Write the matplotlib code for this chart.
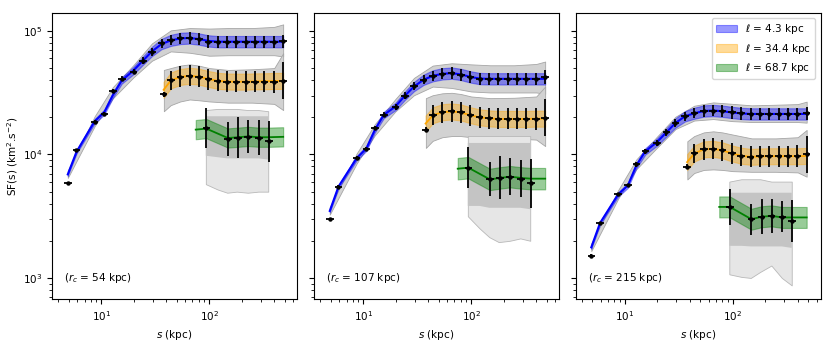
import numpy as np
import matplotlib
matplotlib.use("Agg")
import matplotlib.pyplot as plt

# ---------------- data ----------------
RC_LABELS = ["($r_c$ = 54 kpc)", "($r_c$ = 107 kpc)", "($r_c$ = 215 kpc)"]
SERIES_LABELS = [r"$\ell$ = 4.3 kpc", r"$\ell$ = 34.4 kpc", r"$\ell$ = 68.7 kpc"]

S_BLUE = [4.9, 5.9, 8.7, 10.7, 12.8, 15.5, 19.9, 24.3, 29.5, 36.2, 44.2, 54.0,
          65.9, 80.4, 98.2, 119.8, 146.3, 178.6, 218.0, 266.1, 324.8, 396.5, 484.0]
S_ORANGE = [37.8, 44.2, 54.0, 65.9, 80.4, 98.2, 119.8, 146.3, 178.6, 218.0,
            266.1, 324.8, 396.5, 484.0]
S_GREEN_PTS = [94, 149, 185, 229, 288, 356]
S_GREEN_LINE = [75, 94, 149, 185, 229, 288, 356, 484]

BLUE_BAND_DEX = [0.012, 0.014, 0.018, 0.02, 0.022, 0.026, 0.03, 0.034, 0.038, 0.042,
                 0.045, 0.046, 0.046, 0.046, 0.046, 0.046, 0.046, 0.046, 0.046,
                 0.046, 0.046, 0.046, 0.046]
BLUE_ERR_DEX = [0.012, 0.012, 0.014, 0.015, 0.017, 0.02, 0.024, 0.028, 0.032, 0.036,
                0.04, 0.045, 0.048, 0.05, 0.05, 0.05, 0.05, 0.05, 0.05, 0.05,
                0.05, 0.05, 0.055]
ORANGE_BAND_DEX = 0.065
ORANGE_ERR_DEX = [0.02, 0.08, 0.085, 0.085, 0.085, 0.085, 0.085, 0.085, 0.085,
                  0.085, 0.085, 0.085, 0.09, 0.15]
GREEN_BAND_DEX = [0.078, 0.087, 0.085]

# panel 1 (r_c = 54 kpc)
P1_BLUE_LINE = [6900, 10500, 18600, 22100, 30200, 39800, 47900, 57500, 68400, 78500,
                84100, 87100, 87900, 86100, 83200, 82000, 82000, 82000, 82000, 82000,
                82000, 82000, 82000]
P1_BLUE_PTS = [5830, 10800, 18400, 21400, 32800, 41000, 47000, 57700, 68100, 79400,
               84100, 87100, 88100, 86100, 82200, 81800, 81700, 81700, 81800, 82000,
               82000, 82000, 82400]
P1_ORANGE_LINE = [33400, 39800, 42500, 43400, 42700, 40900, 39500, 39000, 38900, 38900,
                  39100, 39200, 39400, 39500]
P1_ORANGE_PTS = [30800, 39800, 42700, 43400, 42700, 40700, 39400, 38900, 38900, 38900,
                 38900, 38900, 38900, 39500]
P1_GREEN_LINE = [15900, 16200, 13600, 13800, 14000, 13800, 13800, 13900]
P1_GREEN_PTS = [16400, 13400, 13700, 13900, 13700, 12800]
P1_GREEN_ERR_DEX = [0.165, 0.138, 0.164, 0.134, 0.14, 0.168]

# panel 2 (r_c = 107 kpc)
P2_BLUE_LINE = [3490, 5500, 9330, 11200, 15800, 20900, 24500, 29900, 35500, 40300,
                43400, 45000, 45600, 44500, 42500, 41200, 41000, 41000, 41000, 41000,
                41000, 41000, 41000]
P2_BLUE_PTS = [2990, 5500, 9400, 11100, 16400, 21000, 24200, 29900, 35600, 40300,
               43400, 45000, 45600, 44200, 42400, 41000, 41000, 41000, 41000, 41000,
               41000, 41000, 42400]
P2_ORANGE_LINE = [17800, 20800, 22000, 22300, 21900, 20800, 20000, 19600, 19400, 19400,
                  19400, 19400, 19500, 19500]
P2_ORANGE_PTS = [15900, 20800, 22000, 22300, 21900, 20800, 20000, 19600, 19400, 19400,
                 19400, 19400, 19500, 19800]
P2_GREEN_LINE = [7670, 7820, 6280, 6460, 6610, 6460, 6370, 6370]
P2_GREEN_PTS = [7820, 6370, 6490, 6610, 6370, 5830]
P2_GREEN_ERR_DEX = [0.165, 0.137, 0.175, 0.148, 0.148, 0.2]

# panel 3 (r_c = 215 kpc)
P3_BLUE_LINE = [1770, 2780, 4750, 5620, 8130, 10600, 12600, 15100, 18000, 20400,
                21600, 22500, 22700, 22400, 21900, 21500, 21300, 21300, 21300, 21300,
                21300, 21300, 21300]
P3_BLUE_PTS = [1510, 2780, 4750, 5620, 8300, 10600, 12400, 15100, 18000, 20400,
               21600, 22500, 22700, 22400, 21900, 21500, 21300, 21300, 21300, 21300,
               21300, 21300, 21500]
P3_ORANGE_LINE = [8670, 10200, 11000, 11100, 10800, 10200, 9770, 9570, 9640, 9680,
                  9680, 9680, 9680, 9730]
P3_ORANGE_PTS = [7960, 10200, 11000, 11100, 10800, 10200, 9770, 9570, 9640, 9680,
                 9680, 9680, 9680, 10000]
P3_GREEN_LINE = [3760, 3760, 2990, 3130, 3180, 3090, 3090, 3090]
P3_GREEN_PTS = [3760, 2990, 3130, 3180, 3140, 2900]
P3_GREEN_ERR_DEX = [0.148, 0.124, 0.141, 0.137, 0.128, 0.168]

# spread of the grey realisations (envelopes)
ENV_S_BLUE = [4.9, 8.7, 12.8, 19.9, 29.5, 44, 66, 100, 150, 250, 400, 484]
ENV_S_ORANGE = [38, 44, 54, 66, 80, 100, 150, 250, 400, 484]
ENV_S_GREEN = [93, 120, 147, 180, 228, 285, 352]

P1_BLUE_HI = [7410, 20400, 35100, 53100, 79400, 101200, 105700, 104700, 105700, 105700, 108100, 113200]
P1_BLUE_LO = [6460, 17000, 28500, 42200, 57500, 68400, 66700, 63100, 63700, 63700, 63700, 62200]
P2_BLUE_HI = [3740, 10200, 17600, 28200, 41700, 52500, 54800, 53700, 52800, 52800, 54100, 56600]
P2_BLUE_LO = [3260, 8470, 14300, 22400, 30200, 35500, 34600, 32400, 31800, 31800, 31800, 31100]
P3_BLUE_HI = [1900, 5150, 9120, 13960, 20230, 24830, 26420, 25700, 25000, 25290, 25590, 26790]
P3_BLUE_LO = [1650, 4390, 7590, 11350, 16070, 18840, 19360, 18620, 18320, 18320, 18320, 18110]

P1_ORANGE_HI = [48400, 50100, 52500, 53700, 52500, 50100, 48400, 49000, 50100, 66100]
P1_ORANGE_LO = [22400, 25100, 26900, 27900, 27500, 26900, 26300, 26300, 25700, 22900]
P2_ORANGE_HI = [28600, 30200, 31300, 31600, 30900, 29500, 28600, 28800, 29500, 35500]
P2_ORANGE_LO = [11300, 12900, 13800, 14100, 14100, 13800, 13500, 13500, 13200, 11700]
P3_ORANGE_HI = [12800, 14100, 15100, 15400, 15100, 14500, 13500, 13500, 13800, 15800]
P3_ORANGE_LO = [6280, 7080, 7500, 7570, 7500, 7330, 7240, 7240, 7160, 6610]

P1_GREEN_HI = [22900, 23400, 23400, 23400, 22900, 22900, 22400]
P1_GREEN_LO = [5750, 5200, 4900, 5000, 4900, 5000, 5000]
P1_GREEN_CORE_HI = [20400, 20400, 20400, 20400, 20400, 20400, 20400]
P1_GREEN_CORE_LO = [9770, 9500, 9300, 9300, 9300, 9300, 9100]
P2_GREEN_HI = [14100, 14100, 14100, 14100, 14100, 14100, 14100]
P2_GREEN_LO = [3160, 2510, 2140, 1950, 2000, 2090, 2000]
P2_GREEN_CORE_HI = [12400, 12400, 12400, 12400, 12400, 12400, 12400]
P2_GREEN_CORE_LO = [3830, 3830, 3700, 3700, 3700, 3700, 3600]
P3_GREEN_HI = [6030, 6300, 6300, 6300, 6030, 6030, 6030]
P3_GREEN_LO = [1070, 1020, 1000, 1120, 1260, 1000, 870]
P3_GREEN_CORE_HI = [4900, 4900, 4900, 4900, 4900, 4900, 4900]
P3_GREEN_CORE_LO = [1820, 1820, 1800, 1800, 1800, 1800, 1750]

PANELS = [
    dict(bl=P1_BLUE_LINE, bp=P1_BLUE_PTS, ol=P1_ORANGE_LINE, op=P1_ORANGE_PTS,
         gl=P1_GREEN_LINE, gp=P1_GREEN_PTS, ge=P1_GREEN_ERR_DEX,
         bhi=P1_BLUE_HI, blo=P1_BLUE_LO, ohi=P1_ORANGE_HI, olo=P1_ORANGE_LO,
         ghi=P1_GREEN_HI, glo=P1_GREEN_LO, gchi=P1_GREEN_CORE_HI, gclo=P1_GREEN_CORE_LO),
    dict(bl=P2_BLUE_LINE, bp=P2_BLUE_PTS, ol=P2_ORANGE_LINE, op=P2_ORANGE_PTS,
         gl=P2_GREEN_LINE, gp=P2_GREEN_PTS, ge=P2_GREEN_ERR_DEX,
         bhi=P2_BLUE_HI, blo=P2_BLUE_LO, ohi=P2_ORANGE_HI, olo=P2_ORANGE_LO,
         ghi=P2_GREEN_HI, glo=P2_GREEN_LO, gchi=P2_GREEN_CORE_HI, gclo=P2_GREEN_CORE_LO),
    dict(bl=P3_BLUE_LINE, bp=P3_BLUE_PTS, ol=P3_ORANGE_LINE, op=P3_ORANGE_PTS,
         gl=P3_GREEN_LINE, gp=P3_GREEN_PTS, ge=P3_GREEN_ERR_DEX,
         bhi=P3_BLUE_HI, blo=P3_BLUE_LO, ohi=P3_ORANGE_HI, olo=P3_ORANGE_LO,
         ghi=P3_GREEN_HI, glo=P3_GREEN_LO, gchi=P3_GREEN_CORE_HI, gclo=P3_GREEN_CORE_LO),
]

# ---------------- plotting ----------------
plt.rcParams['font.family'] = ['DejaVu Sans']
plt.rcParams['font.size'] = 7.5

W, H = 830, 346
fig = plt.figure(figsize=(W / 100, H / 100), dpi=100)
lefts = [52, 314, 575.5]
axw, bottom, top = 245, 299, 13

XDEX = 0.035
GREY_OUT = '#d2d2d2'
GREY_EDGE = '#a6a6a6'


def dex_band(y, d):
    y = np.asarray(y, float)
    d = np.asarray(d, float)
    return y * 10 ** (-d), y * 10 ** d


def errpts(ax, s, y, d):
    s = np.asarray(s, float)
    y = np.asarray(y, float)
    d = np.asarray(d, float)
    yerr = [y - y * 10 ** (-d), y * 10 ** d - y]
    xerr = [s - s * 10 ** (-XDEX), s * 10 ** XDEX - s]
    ax.errorbar(s, y, yerr=yerr, xerr=xerr, fmt='o', color='k', ms=2.2,
                elinewidth=1.3, capsize=0, zorder=6)


axes = []
for i, p in enumerate(PANELS):
    ax = fig.add_axes([lefts[i] / W, (H - bottom) / H, axw / W, (bottom - top) / H],
                      sharey=axes[0] if axes else None)
    axes.append(ax)
    ax.set_xscale('log')
    ax.set_yscale('log')

    # grey realisations envelopes
    ax.fill_between(ENV_S_BLUE, p['blo'], p['bhi'], facecolor=GREY_OUT, lw=0.6,
                    edgecolor=GREY_EDGE, zorder=1)
    ax.fill_between(ENV_S_ORANGE, p['olo'], p['ohi'], facecolor=GREY_OUT, lw=0.6,
                    edgecolor=GREY_EDGE, zorder=1)
    ax.fill_between(ENV_S_GREEN, p['glo'], p['ghi'], facecolor='#e6e6e6', lw=0.6,
                    edgecolor='#b8b8b8', zorder=1)
    ax.fill_between(ENV_S_GREEN, p['gclo'], p['gchi'], facecolor='#c4c4c4', lw=0,
                    zorder=1.5)

    # model bands
    lo, hi = dex_band(p['bl'], BLUE_BAND_DEX)
    ax.fill_between(S_BLUE, lo, hi, color='blue', alpha=0.4, lw=0.8, zorder=2,
                    label=SERIES_LABELS[0])
    ax.plot(S_BLUE, p['bl'], color='blue', lw=1.5, zorder=3)
    lo, hi = dex_band(p['ol'], ORANGE_BAND_DEX)
    ax.fill_between(S_ORANGE, lo, hi, color='orange', alpha=0.4, lw=0.8, zorder=2,
                    label=SERIES_LABELS[1])
    ax.plot(S_ORANGE, p['ol'], color='orange', lw=1.3, zorder=3)
    lo, hi = dex_band(p['gl'], GREEN_BAND_DEX[i])
    ax.fill_between(S_GREEN_LINE, lo, hi, color='green', alpha=0.4, lw=0.8, zorder=2,
                    label=SERIES_LABELS[2])
    ax.plot(S_GREEN_LINE, p['gl'], color='green', lw=1.3, zorder=3)

    # data points
    errpts(ax, S_BLUE, p['bp'], BLUE_ERR_DEX)
    errpts(ax, S_ORANGE, p['op'], ORANGE_ERR_DEX)
    errpts(ax, S_GREEN_PTS, p['gp'], p['ge'])

    ax.set_xlim(3.5, 650)
    ax.set_ylim(675, 1.4e5)
    ax.set_xlabel(r'$s$ (kpc)')
    ax.text(0.05, 0.075, RC_LABELS[i], transform=ax.transAxes, ha='left', va='center')
    if i == 0:
        ax.set_ylabel(r'SF(s) (km$^2$.s$^{-2}$)', labelpad=2)
    else:
        ax.tick_params(labelleft=False)

axes[2].legend(loc='upper right', fontsize=7.5, framealpha=0.8)

fig.savefig('out.png', dpi=100)
